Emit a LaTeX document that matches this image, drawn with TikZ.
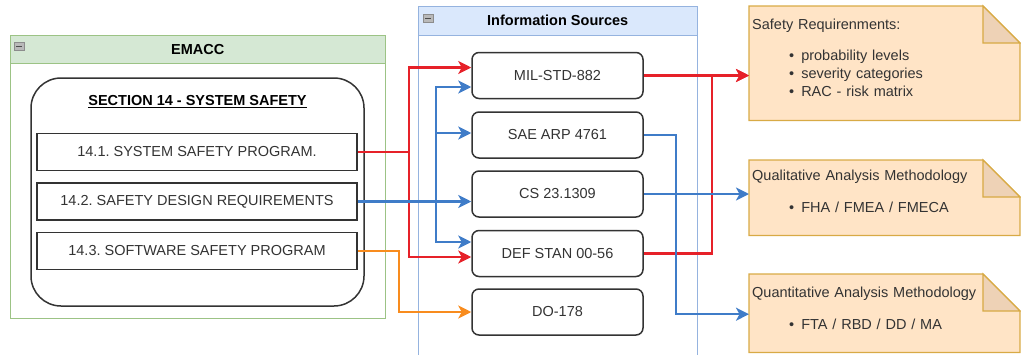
\documentclass[tikz,border=0pt]{standalone}
\usepackage{fontspec}
\setmainfont{Liberation Sans}
\usetikzlibrary{arrows.meta,positioning}
\frenchspacing

\definecolor{emaccfill}{HTML}{D5E8D4}
\definecolor{emaccline}{HTML}{9CC385}
\definecolor{infofill}{HTML}{DAE8FC}
\definecolor{infoline}{HTML}{95B3DF}
\definecolor{notefill}{HTML}{FFE4C6}
\definecolor{noteline}{HTML}{D8AA45}
\definecolor{foldfill}{HTML}{EED2B6}
\definecolor{boxline}{HTML}{333333}
\definecolor{txt}{HTML}{333333}
\definecolor{redarr}{HTML}{E62129}
\definecolor{bluearr}{HTML}{3F7CC8}
\definecolor{orangearr}{HTML}{F88C1E}

\newcommand{\mainfont}{\fontsize{14.5pt}{18pt}\selectfont}

\tikzset{
  pool/.style={draw, anchor=north west, inner sep=0pt},
  poolhead/.style={draw, anchor=north west, inner sep=0pt, minimum height=28pt,
    font=\mainfont\bfseries, text=black},
  item/.style={draw=boxline, line width=1.5pt, minimum width=320pt, minimum height=37pt,
    inner sep=0pt, font=\mainfont, text=txt},
  src/.style={draw=boxline, line width=1.5pt, rounded corners=7pt, minimum width=171pt,
    minimum height=46pt, inner sep=0pt, font=\mainfont, text=txt},
  note/.style={anchor=north west, inner sep=0pt, minimum width=270.5pt},
  notetxt/.style={anchor=north west, inner sep=0pt, text width=262pt, align=left,
    font=\mainfont, text=txt},
  edge/.style={line width=2.5pt, -{Stealth[length=13pt,width=13pt,inset=3.5pt]}},
  rededge/.style={edge, draw=redarr},
  blueedge/.style={edge, draw=bluearr},
  orangeedge/.style={edge, draw=orangearr},
  minusbox/.style={draw=gray!90, fill=gray!55, line width=0.8pt},
}

\newcommand{\bul}[1]{\hspace*{37pt}\textbullet\hspace{7pt}#1}

\begin{document}
\begin{tikzpicture}[x=1pt,y=-1pt]
\useasboundingbox (0,0) rectangle (1021,354);

% EMACC container
\node[pool, draw=emaccline, minimum width=375pt, minimum height=283pt] (emacc) at (10,35) {};
\node[poolhead, draw=emaccline, fill=emaccfill, minimum width=375pt] (emacchead) at (emacc.north west) {EMACC};
\draw[minusbox] ([xshift=4pt,yshift=-7pt]emacchead.north west) rectangle ++(10,8);
\draw[black!70, line width=1pt] ([xshift=6pt,yshift=-11pt]emacchead.north west) -- ++(6,0);

% section 14 with its three items
\node[draw=boxline, line width=1.5pt, rounded corners=30pt, minimum width=333pt,
  minimum height=228pt] (sec) at (197.5,192) {};
\node[font=\mainfont\bfseries, text=black] (sectitle) at ([yshift=-24pt]sec.north) {\underline{SECTION 14 - SYSTEM SAFETY}};
\node[item] (s141) at (197,152) {14.1. SYSTEM SAFETY PROGRAM.};
\node[item] (s142) at (197,201.5) {14.2. SAFETY DESIGN REQUIREMENTS};
\node[item] (s143) at (197,251) {14.3. SOFTWARE SAFETY PROGRAM};

% information sources container
\node[pool, draw=infoline, minimum width=279pt, minimum height=360pt] (info) at (418,6) {};
\node[poolhead, draw=infoline, fill=infofill, minimum width=279pt, minimum height=29pt] (infohead) at (info.north west) {Information Sources};
\draw[minusbox] ([xshift=5pt,yshift=-8pt]infohead.north west) rectangle ++(10,8);
\draw[black!70, line width=1pt] ([xshift=7pt,yshift=-12pt]infohead.north west) -- ++(6,0);

\foreach \n/\t/\y in {mil/MIL-STD-882/75.5, sae/SAE ARP 4761/135, cs/CS 23.1309/194,
    def/DEF STAN 00-56/253.5, do/DO-178/312} {
  \node[src] (\n) at (557.5,\y) {\t};
}

% notes
\node[note, minimum height=114pt] (req) at (749,6) {};
\node[note, minimum height=75pt] (qual) at (749,160) {};
\node[note, minimum height=78pt] (quant) at (749,274) {};
\foreach \n in {req,qual,quant} {
  \filldraw[draw=noteline, fill=notefill, line width=1.2pt] (\n.north west)
    -- ([xshift=-37pt]\n.north east) -- ([yshift=-37pt]\n.north east)
    -- (\n.south east) -- (\n.south west) -- cycle;
  \filldraw[draw=noteline, fill=foldfill, line width=1.2pt] ([xshift=-37pt]\n.north east)
    -- ([xshift=-37pt,yshift=-37pt]\n.north east) -- ([yshift=-37pt]\n.north east) -- cycle;
}
\node[notetxt] (reqtxt) at ([xshift=3pt,yshift=-13pt]req.north west)
  {Safety Requirenments:\\[13pt]\bul{probability levels}\\\bul{severity categories}\\\bul{RAC - risk matrix}};
\node[notetxt] (qualtxt) at ([xshift=3pt,yshift=-10pt]qual.north west)
  {Qualitative Analysis Methodology\\[14pt]\bul{FHA / FMEA / FMECA}};
\node[notetxt] (quanttxt) at ([xshift=3pt,yshift=-13pt]quant.north west)
  {Quantitative Analysis Methodology\\[14pt]\bul{FTA / RBD / DD / MA}};

% section items to sources
\foreach \t/\s in {mil/8pt, def/-3.5pt} {
  \draw[rededge] (s141.east) -- ++(51,0) |- ([yshift=\s]\t.west);
}
\draw[blueedge] (s142.east) -- (s142.east -| cs.west);
\foreach \t/\s in {mil/-11.5pt, sae/2pt, def/11.5pt} {
  \draw[blueedge] (s142.east) -- ++(78,0) |- ([yshift=\s]\t.west);
}
\draw[orangeedge] (s143.east) -- ++(41,0) |- (do.west);

% sources to notes
\draw[rededge] (mil.east) -- (mil.east -| req.west);
\draw[rededge] (def.east) -- ++(68,0) |- (mil.east -| req.west);
\draw[blueedge] (cs.east) -- (cs.east -| qual.west);
\draw[blueedge] (sae.east) -- ++(32,0) |- ([yshift=-1pt]quant.west);
\end{tikzpicture}
\end{document}
